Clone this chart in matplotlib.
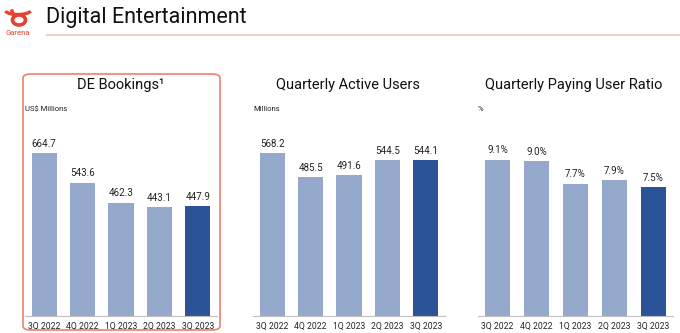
import matplotlib.pyplot as plt
from matplotlib.patches import FancyBboxPatch, Arc, Ellipse

plt.rcParams["font.family"] = ["Roboto", "DejaVu Sans"]

quarters = ["3Q 2022", "4Q 2022", "1Q 2023", "2Q 2023", "3Q 2023"]
bookings = [664.7, 543.6, 462.3, 443.1, 447.9]
active_users = [568.2, 485.5, 491.6, 544.5, 544.1]
paying_ratio = [9.1, 9.0, 7.7, 7.9, 7.5]

LIGHT = "#95A9CC"
DARK = "#2B5398"
RED = "#E8412E"

W, H = 680, 333


def fx(px):
    return px / W


def fy(py):
    return 1 - py / H


fig = plt.figure(figsize=(6.8, 3.33), dpi=100)

# header
fig.text(fx(46), fy(17), "Digital Entertainment", fontsize=15.5,
         va="center", ha="left", color="#111111")
fig.add_artist(plt.Line2D([fx(47), fx(680)], [fy(34.5), fy(34.5)],
                          color="#F2D0CB", lw=1.6))
fig.text(fx(18), fy(33), "Garena", fontsize=5.5, color=RED,
         ha="center", va="center")
# rough logo mark
fig.add_artist(Ellipse((fx(19), fy(20)), fx(13), 10 / H, fill=False,
                       ec=RED, lw=2.6, transform=fig.transFigure))
fig.add_artist(Arc((fx(18), fy(10)), fx(26), 9 / H, theta1=190, theta2=350,
                   ec=RED, lw=2.4, transform=fig.transFigure))
fig.add_artist(plt.Line2D([fx(12), fx(14)], [fy(11), fy(16)],
                          color=RED, lw=2.4))

# highlight box around first panel
box = FancyBboxPatch((fx(23), fy(330)), fx(197), (330 - 74) / H,
                     boxstyle="round,pad=0,rounding_size=0.012",
                     transform=fig.transFigure, fill=False,
                     ec="#F07E6B", lw=1.2)
fig.add_artist(box)

panels = [
    (25, 192, bookings, 799, "DE Bookings\u00b9", "US$ Millions", "{:.1f}", 121),
    (253, 192, active_users, 685, "Quarterly Active Users", "Millions", "{:.1f}", 348),
    (478, 195, paying_ratio, 11.4, "Quarterly Paying User Ratio", "%", "{:.1f}%", 574),
]

bottom_px, top_px = 316, 120
for left, width, values, ymax, title, unit, fmt, title_x in panels:
    ax = fig.add_axes([fx(left), fy(bottom_px), fx(width), (bottom_px - top_px) / H])
    colors = [LIGHT] * (len(values) - 1) + [DARK]
    x = range(len(values))
    ax.bar(x, values, width=0.66, color=colors)
    for xi, v in zip(x, values):
        ax.annotate(fmt.format(v), (xi, v), xytext=(0, 3),
                    textcoords="offset points", ha="center", va="bottom",
                    fontsize=7, color="#222222")
    ax.set_xlim(-0.5, len(values) - 0.5)
    ax.set_ylim(0, ymax)
    ax.set_xticks(list(x))
    ax.set_xticklabels(quarters, fontsize=6.2, color="#222222")
    ax.tick_params(axis="x", length=0, pad=4)
    ax.set_yticks([])
    for side in ["top", "right", "left"]:
        ax.spines[side].set_visible(False)
    ax.spines["bottom"].set_color("#BFBFBF")
    ax.spines["bottom"].set_linewidth(0.8)

    fig.text(fx(title_x), fy(85), title, fontsize=10.5, ha="center",
             va="center", color="#111111")
    fig.text(fx(left), fy(109), unit, fontsize=5.5, ha="left",
             va="center", color="#222222")

fig.savefig("out.png", dpi=100)
